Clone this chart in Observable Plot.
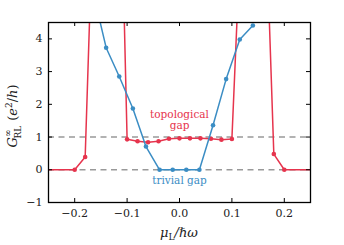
<!DOCTYPE html>
<html>
<head>
<meta charset="utf-8">
<script src="https://cdn.jsdelivr.net/npm/d3@7"></script>
<script src="https://cdn.jsdelivr.net/npm/@observablehq/plot@0.6"></script>
<style>
  html, body { margin: 0; padding: 0; background: #fff; }
  #chart svg { display: block; }
</style>
</head>
<body>
<div id="chart"></div>
<script>
// ---- data ----
const topoX = [-0.26, -0.2, -0.18, -0.16, -0.14, -0.12, -0.1, -0.08, -0.06, -0.04, -0.02, 0.0, 0.02, 0.04, 0.06, 0.08, 0.1, 0.12, 0.14, 0.16, 0.18, 0.2, 0.26];
const topoY = [0, 0, 0.39, 10.4, 16, 14.5, 0.93, 0.87, 0.84, 0.87, 0.95, 0.96, 0.96, 0.96, 0.95, 0.92, 0.94, 8.4, 15, 10, 0.48, 0, 0];
const trivX = [-0.166, -0.14, -0.115, -0.089, -0.064, -0.038, -0.013, 0.013, 0.038, 0.064, 0.089, 0.115, 0.14];
const trivY = [5.5, 3.73, 2.85, 1.87, 0.71, 0, 0, 0, 0, 1.36, 2.77, 3.98, 4.41];
const refLevels = [0, 1];
const xTicks = [-0.2, -0.1, 0.0, 0.1, 0.2];
const yTicks = [-1, 0, 1, 2, 3, 4];
const annotations = [
  {x: 0.0, y: 1.52, text: "topological\ngap", series: "topo"},
  {x: 0.0, y: -0.34, text: "trivial gap", series: "triv"}
];

const RED = "#e6344d";
const BLUE = "#3b8dc4";

const topo = topoX.map((x, i) => ({x, y: topoY[i]}));
const triv = trivX.map((x, i) => ({x, y: trivY[i]}));

const W = 344, H = 245, ML = 48, MR = 34, MT = 22, MB = 43;
const fw = W - ML - MR, fh = H - MT - MB;
const minus = s => s.replace("-", "\u2212");

const plot = Plot.plot({
  width: W, height: H,
  marginLeft: ML, marginRight: MR, marginTop: MT, marginBottom: MB,
  style: {fontFamily: "'DejaVu Serif', serif", fontSize: "11px", background: "#fff", color: "#222"},
  x: {domain: [-0.25, 0.25]},
  y: {domain: [-1, 4.5]},
  marks: [
    Plot.ruleY(refLevels, {y: d => d, stroke: "#999", strokeWidth: 1.5, strokeDasharray: "6,4.5"}),
    Plot.line(topo, {x: "x", y: "y", stroke: RED, strokeWidth: 1.5, clip: true}),
    Plot.dot(topo, {x: "x", y: "y", r: 2.3, fill: RED, clip: true}),
    Plot.line(triv, {x: "x", y: "y", stroke: BLUE, strokeWidth: 1.5, clip: true}),
    Plot.dot(triv, {x: "x", y: "y", r: 2.3, fill: BLUE, clip: true}),
    Plot.text(annotations, {x: "x", y: "y", text: "text", lineHeight: 1.0, fill: d => d.series === "topo" ? RED : BLUE, fontSize: 10.5}),
    Plot.frame({stroke: "#000", strokeWidth: 1.3}),
    Plot.tickX(xTicks, {x: d => d, insetTop: fh - 4, stroke: "#000", strokeWidth: 1}),
    Plot.tickX(xTicks, {x: d => d, insetBottom: fh - 4, stroke: "#000", strokeWidth: 1}),
    Plot.tickY(yTicks, {y: d => d, insetRight: fw - 4, stroke: "#000", strokeWidth: 1}),
    Plot.tickY(yTicks, {y: d => d, insetLeft: fw - 4, stroke: "#000", strokeWidth: 1}),
    Plot.axisX(xTicks, {tickSize: 0, tickPadding: 7, label: null, tickFormat: d => minus(d.toFixed(1)), fontSize: 11}),
    Plot.axisY(yTicks, {tickSize: 0, tickPadding: 6, label: null, tickFormat: d => minus(String(d)), fontSize: 11})
  ]
});

document.getElementById("chart").appendChild(plot);

// axis titles with sub/superscripts
const svg = d3.select(plot);
const xl = svg.append("text")
  .attr("x", ML + fw / 2).attr("y", 237)
  .attr("text-anchor", "middle")
  .attr("font-size", 13).attr("fill", "#222");
xl.append("tspan").attr("font-style", "italic").text("μ");
xl.append("tspan").attr("font-size", 9).attr("dy", 3).text("L");
xl.append("tspan").attr("dy", -3).attr("font-style", "italic").text("/ℏω");

const yl = svg.append("text")
  .attr("transform", `translate(17, ${MT + fh / 2 + 4}) rotate(-90)`)
  .attr("text-anchor", "middle")
  .attr("font-size", 13).attr("fill", "#222");
yl.append("tspan").attr("font-style", "italic").text("G");
yl.append("tspan").attr("font-size", 9).attr("dy", -6).text("∞");
yl.append("tspan").attr("font-size", 9).attr("dx", -9).attr("dy", 10).text("RL");
yl.append("tspan").attr("dy", -4).attr("dx", 5).text("(");
yl.append("tspan").attr("font-style", "italic").text("e");
yl.append("tspan").attr("font-size", 9).attr("dy", -5).text("2");
yl.append("tspan").attr("dy", 5).text("/");
yl.append("tspan").attr("font-style", "italic").text("h");
yl.append("tspan").text(")");
</script>
</body>
</html>
